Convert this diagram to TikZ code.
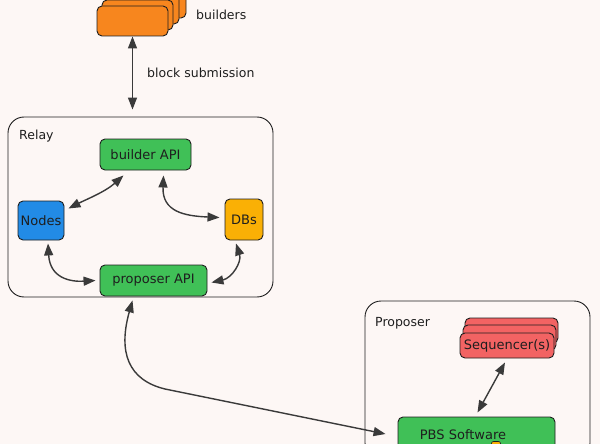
\documentclass[tikz,border=0pt]{standalone}
\usepackage{fontspec}
\setmainfont{DejaVu Sans}
\usetikzlibrary{arrows.meta,calc}
\definecolor{bg}{HTML}{FDF7F5}
\definecolor{ink}{HTML}{1E1E1E}
\definecolor{arrowc}{HTML}{3A3A3A}
\definecolor{orangef}{HTML}{F7861E}
\definecolor{greenf}{HTML}{40C057}
\definecolor{bluef}{HTML}{228BE6}
\definecolor{yellowf}{HTML}{FAB005}
\definecolor{redf}{HTML}{F26363}
\tikzset{
  box/.style={draw=ink, line width=0.9pt, rounded corners=5pt, inner sep=0pt, font=\fontsize{13}{15}\selectfont, text=ink},
  frame/.style={draw=ink, line width=0.9pt, rounded corners=16pt, inner sep=0pt},
  lbl/.style={font=\fontsize{12.5}{15}\selectfont, text=ink, inner sep=0pt},
  arr/.style={draw=arrowc, line width=1.4pt, {Triangle[length=12pt,width=9pt]}-{Triangle[length=12pt,width=9pt]}},
}
\begin{document}
\begin{tikzpicture}[x=1pt,y=-1pt]
\useasboundingbox (0,0) rectangle (600,444);
\fill[bg] (0,0) rectangle (600,444);
\clip (0,0) rectangle (600,444);

% builders stack
\node[box, fill=orangef, minimum width=71pt, minimum height=30pt] (b3) at (150.5,3) {};
\node[box, fill=orangef, minimum width=71pt, minimum height=30pt] (b2) at (143.5,9) {};
\node[box, fill=orangef, minimum width=71pt, minimum height=30pt] (b1) at (137.5,15) {};
\node[box, fill=orangef, minimum width=71pt, minimum height=30pt] (builders) at (132.5,21) {};
\node[lbl, anchor=west] (builderslbl) at (196,15) {builders};

% relay frame
\node[frame, minimum width=265pt, minimum height=180pt] (relay) at (140.5,207) {};
\node[lbl, anchor=west] (relaylbl) at (19,136) {Relay};

\node[box, fill=greenf, minimum width=91pt, minimum height=31pt] (builderapi) at (145.5,154.5) {builder API};
\node[box, fill=bluef, minimum width=46pt, minimum height=39pt] (nodes) at (41,220.5) {Nodes};
\node[box, fill=yellowf, minimum width=38pt, minimum height=41pt] (dbs) at (244,219.5) {DBs};
\node[box, fill=greenf, minimum width=107pt, minimum height=31pt] (proposerapi) at (153.5,280.5) {proposer API};

% block submission
\draw[arr] (builders.south) -- ([yshift=7pt]builders.south |- relay.north) coordinate (subend);
\node[lbl, anchor=west] (sublbl) at (147,73) {block submission};

% relay arrows
\draw[arr] ($(builderapi.south)+(-22,5)$) .. controls (105,192) and (85,200) .. ($(nodes.east)+(4,-12)$);
\draw[arr] ($(builderapi.south)+(18,5)$) .. controls (162,212) and (185,216) .. ($(dbs.west)+(-5,-2)$);
\draw[arr] ($(nodes.south)+(7,3)$) .. controls (50,278) and (70,282) .. ($(proposerapi.west)+(-4,0)$);
\draw[arr] ($(dbs.south)+(-8,3)$) .. controls (242,262) and (232,278) .. ($(proposerapi.east)+(4,2)$);

% proposer frame
\node[frame, minimum width=225pt, minimum height=158pt] (proposer) at (477.5,380) {};
\node[lbl, anchor=west] (proposerlbl) at (375,323) {Proposer};

% sequencers
\node[box, fill=redf, minimum width=93pt, minimum height=25pt] (s3) at (511.5,330.5) {};
\node[box, fill=redf, minimum width=93pt, minimum height=25pt] (s2) at (509.5,337.5) {};
\node[box, fill=redf, minimum width=94pt, minimum height=25pt] (seq) at (507,345.5) {Sequencer(s)};

% PBS software
\node[box, fill=greenf, minimum width=157pt, minimum height=32pt] (pbs) at (476.5,433) {};
\node[box, draw=none, fill=none] (pbslbl) at (463,435) {PBS Software};
\node[draw=ink, line width=0.6pt, fill=yellowf, rounded corners=2pt, minimum width=9pt, minimum height=9pt, inner sep=0pt] (yel) at (496,446) {};

\draw[arr] ($(seq.south)+(-2,4)$) -- ($(pbs.north)+(1,-4)$);
\draw[arr] ($(proposerapi.south)+(-21,4)$) .. controls (118,352) and (128,380) .. (165,389) -- ($(pbs.west)+(-12,1)$);
\end{tikzpicture}
\end{document}
